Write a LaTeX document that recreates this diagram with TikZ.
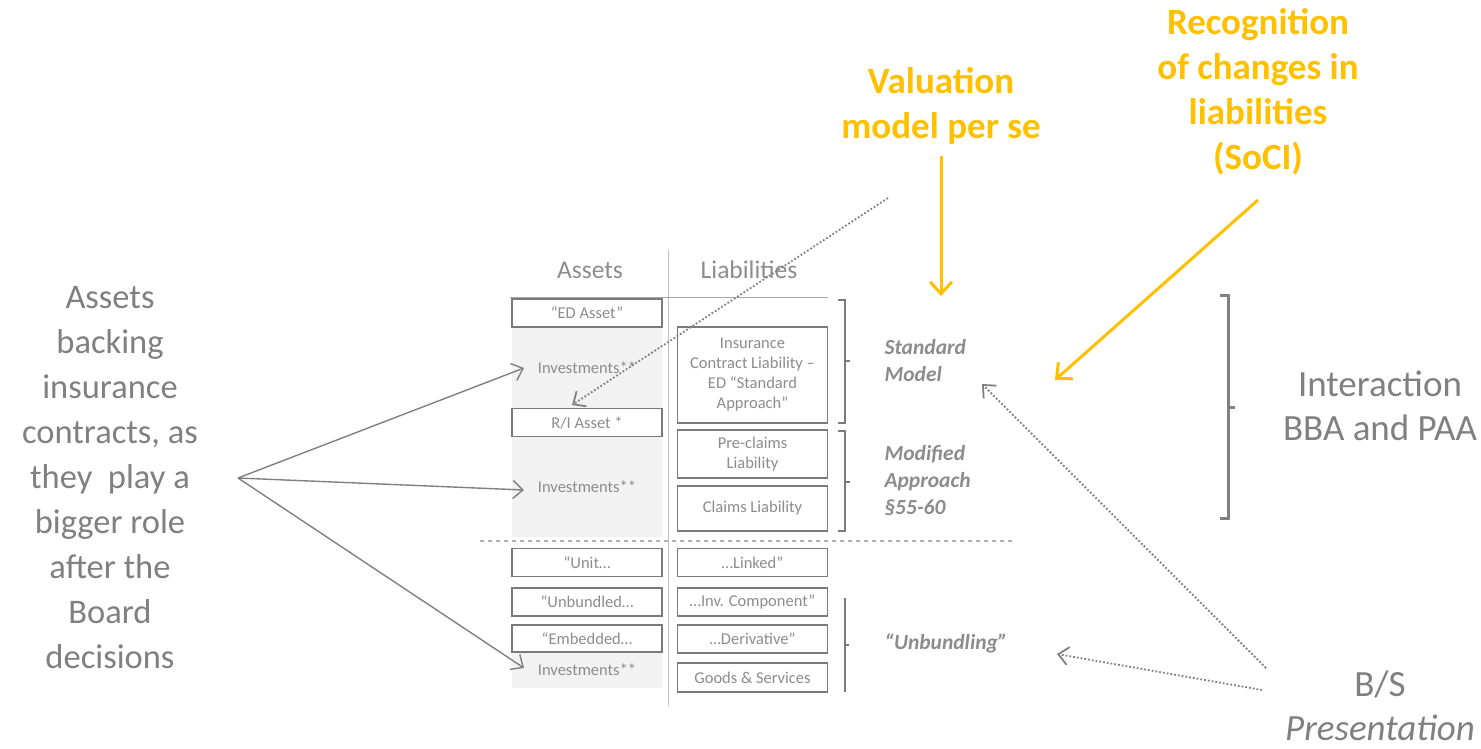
\documentclass[tikz,border=0pt]{standalone}
\usepackage{fontspec}
\setmainfont{Carlito}
\usetikzlibrary{arrows.meta}
\definecolor{gold}{HTML}{FFC000}
\definecolor{txtgray}{HTML}{808080}
\definecolor{tblgray}{HTML}{8C8C8C}
\definecolor{boxline}{HTML}{7A7A7A}
\definecolor{shade}{HTML}{F2F2F2}
\tikzset{
  cell/.style={draw=boxline, line width=1.6pt, fill=white, minimum width=150pt, minimum height=#1, inner sep=1pt, align=center, text=tblgray, font=\fontsize{16.5}{20}\selectfont},
  cell/.default=28pt,
  shadebox/.style={fill=shade, draw=none, minimum width=150pt, minimum height=#1, inner sep=0pt, text=tblgray, font=\fontsize{16.5}{20}\selectfont},
  bigtxt/.style={text=txtgray, align=center, font=\fontsize{37}{44}\selectfont},
  lefttxt/.style={text=txtgray, align=center, font=\fontsize{34.5}{45}\selectfont},
  goldtxt/.style={text=gold, align=center, font=\bfseries\fontsize{37}{45}\selectfont},
  sidelbl/.style={text=tblgray, align=left, anchor=west, font=\itshape\bfseries\fontsize{21.5}{27}\selectfont},
  hdr/.style={text=tblgray, font=\fontsize{25.5}{28}\selectfont},
  brk/.style={draw=boxline, line width=1.4pt},
  goldarrow/.style={draw=gold, line width=3pt, -{Straight Barb[length=12pt,width=22pt]}},
  grayarrow/.style={draw=txtgray, line width=1.4pt, -{Straight Barb[length=10pt,width=18pt]}},
  dotarrow/.style={draw=txtgray, line width=1.8pt, dotted, -{Straight Barb[length=10pt,width=18pt]}},
}
\begin{document}
\begin{tikzpicture}[x=1pt,y=-1pt]
\useasboundingbox (0,0) rectangle (1481,748);
% header
\node[hdr] (hA) at (590,270) {Assets};
\node[hdr] (hL) at (749,270) {Liabilities};
\draw[draw=black!25, line width=1pt] (668,250) -- (668,706);
\draw[draw=black!35, line width=1pt] (510,297) -- (828,297);
% shaded asset areas
\node[shadebox=81pt] (inv1) at (587,367.5) {Investments**};
\node[shadebox=100pt] (inv2) at (587,487) {Investments**};
\node[shadebox=36pt] (inv3) at (587,670) {Investments**};
% asset boxes
\node[cell] (edasset) at (587,313) {“ED Asset”};
\node[cell] (riasset) at (587,422.5) {R/I Asset *};
\node[cell] (unit) at (587,562.5) {“Unit…};
\node[cell] (unbund) at (587,602) {“Unbundled…};
\node[cell=27pt] (embed) at (587,638.5) {“Embedded…};
% liability boxes
\node[cell=96pt] (icl) at (752.5,375) {Insurance\\Contract Liability –\\ED “Standard\\Approach”};
\node[cell=48pt] (precl) at (752.5,454) {Pre-claims\\Liability};
\node[cell=45pt] (claims) at (752.5,508.5) {Claims Liability};
\node[cell] (linked) at (752.5,562.5) {…Linked”};
\node[cell] (invcomp) at (752.5,602) {…Inv. Component”};
\node[cell] (deriv) at (752.5,639) {…Derivative”};
\node[cell=29pt] (goods) at (752.5,677.5) {Goods \& Services};
% dashed separator
\draw[draw=black!30, line width=1.6pt, dash pattern=on 4pt off 4pt] (480,541) -- (1012,541);
% small brackets
\draw[brk] (838,300) -- (845,300) -- (845,423) -- (838,423);
\draw[brk] (845,361) -- (850,361);
\draw[brk] (838,431) -- (845,431) -- (845,531) -- (838,531);
\draw[brk] (845,482) -- (850,482);
\draw[brk] (845,598) -- (845,692);
\draw[brk] (845,645) -- (849,645);
% side labels
\node[sidelbl] (stdm) at (881,361) {Standard\\Model};
\node[sidelbl] (modap) at (881,481) {Modified\\Approach\\§55-60};
\node[sidelbl, anchor=center] (unb) at (946,643) {“Unbundling”};
% big bracket
\draw[draw=txtgray, line width=3pt] (1220,295) -- (1228,295) -- (1228,518) -- (1220,518);
\draw[draw=txtgray, line width=3pt] (1228,407) -- (1235,407);
% right texts
\node[bigtxt] (inter) at (1380,406) {Interaction\\BBA and PAA};
\node[bigtxt] (bs) at (1380,706) {B/S\\\textit{Presentation}};
% gold texts
\node[goldtxt] (valm) at (941,106) {Valuation\\model per se};
\node[goldtxt] (recog) at (1258,92) {Recognition\\of changes in\\liabilities\\(SoCI)};
% left text
\node[lefttxt] (assetsback) at (110,478) {Assets\\backing\\insurance\\contracts, as\\they\ \ play a\\bigger role\\after the\\Board\\decisions};
% coordinates for connectors
\coordinate (lsrc) at (238,478);
\coordinate (t1) at (524,368);
\coordinate (t2) at (524,490);
\coordinate (t3) at (524,668);
\coordinate (valtail) at (941,156);
\coordinate (valtip) at (941,296);
\coordinate (rectail) at (1258,200);
\coordinate (rectip) at (1055,380);
\coordinate (dot1s) at (888,198);
\coordinate (dot1e) at (572,405);
\coordinate (dot2s) at (1266,668);
\coordinate (dot2e) at (982,384);
\coordinate (dot3s) at (1262,690);
\coordinate (dot3e) at (1057,654);
% arrows
\draw[grayarrow] (lsrc) -- (t1);
\draw[grayarrow] (lsrc) -- (t2);
\draw[grayarrow] (lsrc) -- (t3);
\draw[goldarrow] (valtail) -- (valtip);
\draw[goldarrow] (rectail) -- (rectip);
\draw[dotarrow] (dot1s) -- (dot1e);
\draw[dotarrow] (dot2s) -- (dot2e);
\draw[dotarrow] (dot3s) -- (dot3e);
\end{tikzpicture}
\end{document}
